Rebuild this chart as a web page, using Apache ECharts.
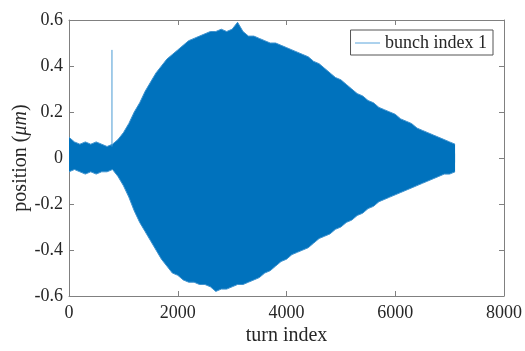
<!DOCTYPE html>
<html>
<head>
<meta charset="utf-8">
<script src="https://cdn.jsdelivr.net/npm/echarts@6/dist/echarts.min.js"></script>
<style>
  html, body { margin: 0; padding: 0; background: #fff; }
  #chart { width: 525px; height: 351px; }
</style>
</head>
<body>
<div id="chart"></div>
<script>
// turn index grid (every 100 turns) and the outer envelope of the oscillation
const turns = [
  0, 100, 200, 300, 400, 500, 600, 700, 800, 900,
  1000, 1100, 1200, 1300, 1400, 1500, 1600, 1700, 1800, 1900,
  2000, 2100, 2200, 2300, 2400, 2500, 2600, 2700, 2800, 2900,
  3000, 3100, 3200, 3300, 3400, 3500, 3600, 3700, 3800, 3900,
  4000, 4100, 4200, 4300, 4400, 4500, 4600, 4700, 4800, 4900,
  5000, 5100, 5200, 5300, 5400, 5500, 5600, 5700, 5800, 5900,
  6000, 6100, 6200, 6300, 6400, 6500, 6600, 6700, 6800, 6900,
  7000, 7100
];
const upperEnv = [
  0.09, 0.07, 0.06, 0.07, 0.06, 0.07, 0.06, 0.05, 0.06, 0.08,
  0.11, 0.15, 0.20, 0.24, 0.29, 0.33, 0.37, 0.40, 0.43, 0.45,
  0.47, 0.49, 0.51, 0.52, 0.53, 0.54, 0.55, 0.55, 0.56, 0.55,
  0.56, 0.59, 0.55, 0.53, 0.53, 0.52, 0.51, 0.50, 0.50, 0.49,
  0.48, 0.47, 0.46, 0.45, 0.44, 0.42, 0.41, 0.39, 0.37, 0.35,
  0.34, 0.32, 0.30, 0.28, 0.27, 0.25, 0.24, 0.22, 0.21, 0.20,
  0.19, 0.17, 0.16, 0.15, 0.13, 0.12, 0.11, 0.10, 0.09, 0.08,
  0.07, 0.06
];
const lowerEnv = [
  -0.06, -0.05, -0.06, -0.07, -0.06, -0.07, -0.06, -0.06, -0.05, -0.08,
  -0.12, -0.17, -0.23, -0.28, -0.32, -0.36, -0.40, -0.44, -0.47, -0.50,
  -0.51, -0.53, -0.54, -0.54, -0.55, -0.55, -0.56, -0.58, -0.57, -0.57,
  -0.56, -0.55, -0.55, -0.54, -0.53, -0.52, -0.50, -0.49, -0.47, -0.45,
  -0.44, -0.42, -0.41, -0.40, -0.39, -0.37, -0.35, -0.34, -0.33, -0.31,
  -0.30, -0.28, -0.27, -0.25, -0.24, -0.22, -0.21, -0.19, -0.18, -0.17,
  -0.16, -0.15, -0.14, -0.13, -0.12, -0.11, -0.10, -0.09, -0.08, -0.07,
  -0.07, -0.06
];
// single kick spike near turn 790, rising out of the band
const spikeTurn = 790;
const spikeBase = 0.05;
const spikeValue = 0.47;

const xTicks = [0, 8000, 2000];
const yTicks = [-0.6, 0.6, 0.2];

const seriesName = 'bunch index 1';
const blue = '#0072BD';
const font = 'Liberation Serif';
const axisGray = '#808080';
const textColor = '#262626';

const upperData = turns.map((t, i) => [t, upperEnv[i]]);
const lowerData = turns.map((t, i) => [t, lowerEnv[i]]);

const chart = echarts.init(document.getElementById('chart'), null, { renderer: 'canvas' });

const baseX = {
  type: 'value', min: xTicks[0], max: xTicks[1], interval: xTicks[2],
  axisLine: { show: true, onZero: false, lineStyle: { color: axisGray, width: 1 } },
  axisTick: { show: true, inside: true, length: 5, lineStyle: { color: axisGray } },
  splitLine: { show: false }
};
const baseY = {
  type: 'value', min: yTicks[0], max: yTicks[1], interval: yTicks[2],
  axisLine: { show: true, onZero: false, lineStyle: { color: axisGray, width: 1 } },
  axisTick: { show: true, inside: true, length: 5, lineStyle: { color: axisGray } },
  splitLine: { show: false }
};

chart.setOption({
  animation: false,
  grid: { left: 69, right: 20, top: 20, bottom: 50 },
  legend: {
    data: [seriesName],
    right: 32, top: 30,
    borderColor: '#555', borderWidth: 1, borderRadius: 0,
    padding: [4, 6, 3, 4],
    itemWidth: 25, itemHeight: 10,
    itemStyle: { opacity: 0 },
    lineStyle: { color: '#5aa5dc', width: 1 },
    textStyle: { fontFamily: font, fontSize: 18, color: textColor }
  },
  xAxis: [
    Object.assign({}, baseX, {
      position: 'bottom',
      name: 'turn index', nameLocation: 'middle', nameGap: 30, nameMoveOverlap: false,
      nameTextStyle: { fontFamily: font, fontSize: 20, color: textColor },
      axisLabel: { margin: 8, fontFamily: font, fontSize: 18, color: textColor, formatter: v => String(v) }
    }),
    Object.assign({}, baseX, { position: 'top', axisLabel: { show: false } })
  ],
  yAxis: [
    Object.assign({}, baseY, {
      position: 'left',
      name: 'position ({i|μm})', nameLocation: 'middle', nameGap: 38, nameRotate: 90, nameMoveOverlap: false,
      nameTextStyle: {
        fontFamily: font, fontSize: 20, color: textColor,
        rich: { i: { fontFamily: font, fontSize: 20, fontStyle: 'italic', color: textColor } }
      },
      axisLabel: {
        margin: 6, fontFamily: font, fontSize: 18, color: textColor,
        formatter: v => (Math.abs(v) < 1e-9 ? '0' : String(+v.toFixed(1)))
      }
    }),
    Object.assign({}, baseY, { position: 'right', axisLabel: { show: false } })
  ],
  series: [
    {
      name: seriesName, type: 'line', data: upperData,
      symbol: 'none',
      lineStyle: { color: '#3f93cf', width: 1 },
      areaStyle: { color: blue, opacity: 1, origin: -0.02 }
    },
    {
      name: seriesName, type: 'line', data: lowerData,
      symbol: 'none',
      lineStyle: { color: '#3f93cf', width: 1 },
      areaStyle: { color: blue, opacity: 1, origin: 0.02 }
    },
    {
      name: seriesName, type: 'line',
      data: [[spikeTurn, spikeBase], [spikeTurn, spikeValue]],
      symbol: 'none',
      lineStyle: { color: '#4a9ad4', width: 1 }
    }
  ]
});
</script>
</body>
</html>
